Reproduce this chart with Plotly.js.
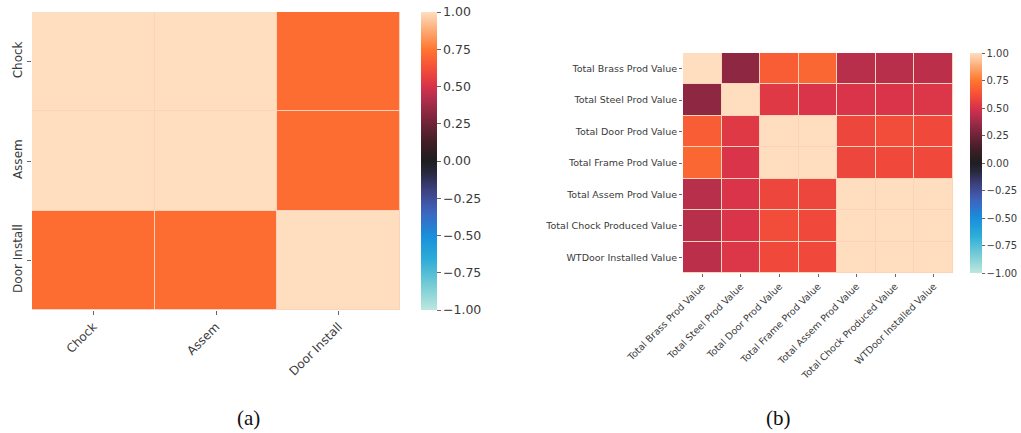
<!DOCTYPE html>
<html>
<head>
<meta charset="utf-8">
<script src="https://cdn.plot.ly/plotly-3.0.1.min.js"></script>
<style>
  html, body { margin: 0; padding: 0; background: #ffffff; }
  #chart { width: 1021px; height: 433px; }
</style>
</head>
<body>
<div id="chart"></div>
<script>
// (a) correlation of the three production measures
const labelsA = ['Chock', 'Assem', 'Door Install'];
const rowChockA = [1.00, 1.00, 0.72];
const rowAssemA = [1.00, 1.00, 0.72];
const rowDoorInstallA = [0.72, 0.72, 1.00];

// (b) correlation of the seven production value measures
const labelsB = [
  'Total Brass Prod Value',
  'Total Steel Prod Value',
  'Total Door Prod Value',
  'Total Frame Prod Value',
  'Total Assem Prod Value',
  'Total Chock Produced Value',
  'WTDoor Installed Value'
];
const rowBrass  = [1.00, 0.33, 0.67, 0.70, 0.43, 0.43, 0.44];
const rowSteel  = [0.33, 1.00, 0.53, 0.51, 0.51, 0.51, 0.52];
const rowDoor   = [0.67, 0.53, 1.00, 1.00, 0.59, 0.61, 0.60];
const rowFrame  = [0.70, 0.51, 1.00, 1.00, 0.59, 0.60, 0.60];
const rowAssem  = [0.43, 0.51, 0.59, 0.59, 1.00, 1.00, 1.00];
const rowChock  = [0.43, 0.51, 0.61, 0.60, 1.00, 1.00, 1.00];
const rowWTDoor = [0.44, 0.52, 0.60, 0.60, 1.00, 1.00, 1.00];

const colorbarTicks = [-1, -0.75, -0.5, -0.25, 0, 0.25, 0.5, 0.75, 1];

// diverging "icefire"-style scale: cyan -> blue -> black -> red -> orange -> peach
const icefire = [
  [0.00, 'rgb(189,231,223)'],
  [0.08, 'rgb(120,205,214)'],
  [0.17, 'rgb(45,172,216)'],
  [0.25, 'rgb(25,142,220)'],
  [0.33, 'rgb(62,100,190)'],
  [0.40, 'rgb(62,66,130)'],
  [0.46, 'rgb(40,40,62)'],
  [0.50, 'rgb(30,30,33)'],
  [0.56, 'rgb(62,30,38)'],
  [0.625, 'rgb(110,35,55)'],
  [0.70, 'rgb(170,45,75)'],
  [0.75, 'rgb(215,50,75)'],
  [0.81, 'rgb(245,78,56)'],
  [0.875, 'rgb(255,118,48)'],
  [0.94, 'rgb(253,172,118)'],
  [1.00, 'rgb(254,222,190)']
];

const W = 1021, H = 433;
const fx = x => x / W;
const fy = y => 1 - y / H;
const FONT = 'DejaVu Sans, sans-serif';
const TXT = '#3a3a3a';

const traceA = {
  type: 'heatmap',
  x: labelsA, y: labelsA,
  z: [rowChockA, rowAssemA, rowDoorInstallA],
  zmin: -1, zmax: 1,
  colorscale: icefire,
  xgap: 1, ygap: 1,
  hoverinfo: 'skip',
  xaxis: 'x', yaxis: 'y',
  colorbar: {
    x: fx(421), xanchor: 'left', xref: 'paper',
    y: fy(12), yanchor: 'top', yref: 'paper',
    len: 298, lenmode: 'pixels',
    thickness: 16, thicknessmode: 'pixels',
    outlinewidth: 0, xpad: 0, ypad: 0,
    tickvals: colorbarTicks, tickformat: '.2f',
    ticks: 'outside', ticklen: 4, tickcolor: '#666',
    tickfont: { family: FONT, size: 12.5, color: TXT }
  }
};

const traceB = {
  type: 'heatmap',
  x: labelsB, y: labelsB,
  z: [rowBrass, rowSteel, rowDoor, rowFrame, rowAssem, rowChock, rowWTDoor],
  zmin: -1, zmax: 1,
  colorscale: icefire,
  xgap: 1, ygap: 1,
  hoverinfo: 'skip',
  xaxis: 'x2', yaxis: 'y2',
  colorbar: {
    x: fx(970), xanchor: 'left', xref: 'paper',
    y: fy(53), yanchor: 'top', yref: 'paper',
    len: 220, lenmode: 'pixels',
    thickness: 12, thicknessmode: 'pixels',
    outlinewidth: 0, xpad: 0, ypad: 0,
    tickvals: colorbarTicks, tickformat: '.2f',
    ticks: 'outside', ticklen: 3, tickcolor: '#666',
    tickfont: { family: FONT, size: 10, color: TXT }
  }
};

const axisCommon = {
  showgrid: false, zeroline: false, showline: false,
  ticks: 'outside', tickcolor: '#666', tickwidth: 1
};

const layout = {
  width: W, height: H,
  margin: { l: 0, r: 0, t: 0, b: 0 },
  paper_bgcolor: '#ffffff',
  plot_bgcolor: 'rgb(252,211,186)',
  showlegend: false,
  xaxis: Object.assign({}, axisCommon, {
    domain: [fx(32), fx(400)], anchor: 'y',
    tickangle: -45, ticklen: 4,
    tickfont: { family: FONT, size: 12, color: TXT }
  }),
  yaxis: Object.assign({}, axisCommon, {
    domain: [fy(310), fy(12)], anchor: 'x',
    autorange: 'reversed', tickangle: -90, ticklen: 4,
    tickfont: { family: FONT, size: 12, color: TXT }
  }),
  xaxis2: Object.assign({}, axisCommon, {
    domain: [fx(683), fx(953)], anchor: 'y2',
    tickangle: -45, ticklen: 3,
    tickfont: { family: FONT, size: 9.5, color: TXT }
  }),
  yaxis2: Object.assign({}, axisCommon, {
    domain: [fy(273), fy(53)], anchor: 'x2',
    autorange: 'reversed', ticklen: 3,
    tickfont: { family: FONT, size: 9.5, color: TXT }
  }),
  annotations: [
    { text: '(a)', xref: 'paper', yref: 'paper', x: fx(248), y: fy(418),
      xanchor: 'center', yanchor: 'middle', showarrow: false,
      font: { family: 'Liberation Serif, Times New Roman, serif', size: 21, color: '#111' } },
    { text: '(b)', xref: 'paper', yref: 'paper', x: fx(778), y: fy(418),
      xanchor: 'center', yanchor: 'middle', showarrow: false,
      font: { family: 'Liberation Serif, Times New Roman, serif', size: 21, color: '#111' } }
  ]
};

Plotly.newPlot('chart', [traceA, traceB], layout, { staticPlot: true, displayModeBar: false });
</script>
</body>
</html>
